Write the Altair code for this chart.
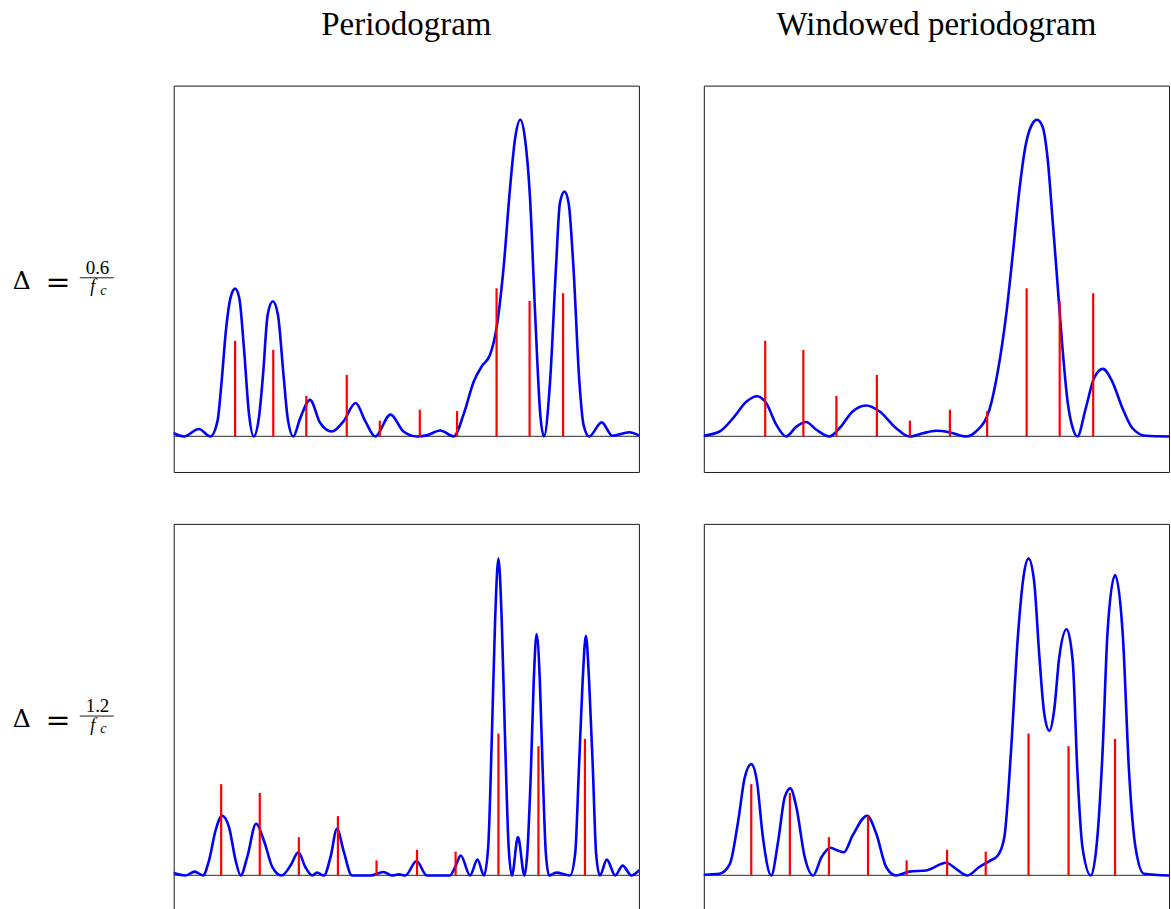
import altair as alt
import pandas as pd

# ---------------- data ----------------
# Top row (Delta = 0.6 / f_c): spike locations and amplitudes
SPIKE_F_TOP = [0.132, 0.214, 0.285, 0.372, 0.443, 0.529, 0.609, 0.694, 0.765, 0.837]
SPIKE_A_TOP = [0.272, 0.246, 0.115, 0.175, 0.045, 0.076, 0.072, 0.421, 0.385, 0.407]

# Bottom row (Delta = 1.2 / f_c)
SPIKE_F_BOT = [0.102, 0.185, 0.269, 0.353, 0.436, 0.523, 0.606, 0.698, 0.784, 0.884]
SPIKE_A_BOT = [0.260, 0.235, 0.109, 0.169, 0.043, 0.073, 0.068, 0.404, 0.368, 0.389]

# Periodogram, top row
PER_TOP_F = [0.000, 0.022, 0.054, 0.079, 0.094, 0.103, 0.112, 0.122, 0.132, 0.141,
             0.151, 0.162, 0.172, 0.183, 0.192, 0.202, 0.213, 0.224, 0.236, 0.245,
             0.257, 0.272, 0.293, 0.315, 0.340, 0.365, 0.391, 0.412, 0.433, 0.466,
             0.494, 0.523, 0.544, 0.573, 0.602, 0.623, 0.645, 0.662, 0.680, 0.695,
             0.709, 0.723, 0.734, 0.745, 0.755, 0.766, 0.777, 0.788, 0.796, 0.809,
             0.822, 0.830, 0.840, 0.849, 0.859, 0.872, 0.881, 0.893, 0.920, 0.943,
             0.979, 1.000]
PER_TOP_P = [0.009, 0.000, 0.021, 0.000, 0.043, 0.156, 0.298, 0.393, 0.420, 0.393,
             0.251, 0.062, 0.000, 0.052, 0.175, 0.346, 0.384, 0.346, 0.175, 0.052,
             0.000, 0.052, 0.104, 0.038, 0.014, 0.043, 0.095, 0.043, 0.000, 0.062,
             0.014, 0.000, 0.003, 0.017, 0.000, 0.062, 0.156, 0.199, 0.232, 0.317,
             0.478, 0.706, 0.848, 0.900, 0.848, 0.677, 0.346, 0.062, 0.000, 0.156,
             0.487, 0.662, 0.696, 0.662, 0.487, 0.156, 0.033, 0.000, 0.040, 0.002,
             0.012, 0.003]

# Windowed periodogram, top row
WIN_TOP_F = [0.000, 0.034, 0.063, 0.092, 0.114, 0.134, 0.156, 0.177, 0.199, 0.220,
             0.242, 0.270, 0.292, 0.320, 0.349, 0.378, 0.413, 0.442, 0.471, 0.499,
             0.528, 0.564, 0.585, 0.614, 0.632, 0.650, 0.664, 0.678, 0.692, 0.707,
             0.716, 0.728, 0.739, 0.750, 0.760, 0.771, 0.782, 0.793, 0.803, 0.821,
             0.839, 0.858, 0.878, 0.900, 0.921, 0.950, 1.000]
WIN_TOP_P = [0.002, 0.014, 0.052, 0.099, 0.114, 0.095, 0.033, 0.000, 0.028, 0.041,
             0.019, 0.000, 0.024, 0.071, 0.088, 0.071, 0.024, 0.000, 0.009, 0.016,
             0.012, 0.000, 0.014, 0.076, 0.185, 0.346, 0.516, 0.696, 0.829, 0.890,
             0.900, 0.881, 0.791, 0.611, 0.440, 0.251, 0.099, 0.024, 0.000, 0.080,
             0.166, 0.192, 0.156, 0.080, 0.024, 0.002, 0.000]

# Periodogram, bottom row
PER_BOT_F = [0.000, 0.026, 0.045, 0.063, 0.076, 0.090, 0.104, 0.119, 0.133, 0.144,
             0.158, 0.177, 0.194, 0.212, 0.232, 0.251, 0.268, 0.283, 0.298, 0.308,
             0.323, 0.337, 0.351, 0.365, 0.383, 0.423, 0.451, 0.469, 0.484, 0.498,
             0.522, 0.544, 0.594, 0.605, 0.617, 0.637, 0.653, 0.667, 0.676, 0.684,
             0.691, 0.698, 0.705, 0.712, 0.720, 0.727, 0.740, 0.754, 0.760, 0.768,
             0.774, 0.780, 0.787, 0.793, 0.800, 0.807, 0.822, 0.852, 0.863, 0.871,
             0.879, 0.886, 0.893, 0.901, 0.908, 0.916, 0.931, 0.949, 0.965, 0.984,
             1.000]
PER_BOT_P = [0.007, 0.000, 0.011, 0.000, 0.043, 0.128, 0.170, 0.137, 0.043, 0.000,
             0.052, 0.147, 0.099, 0.024, 0.000, 0.028, 0.066, 0.024, 0.000, 0.008,
             0.000, 0.052, 0.133, 0.071, 0.000, 0.000, 0.010, 0.000, 0.003, 0.000,
             0.041, 0.000, 0.000, 0.024, 0.057, 0.000, 0.045, 0.000, 0.081, 0.401,
             0.731, 0.902, 0.731, 0.401, 0.081, 0.000, 0.109, 0.000, 0.062, 0.305,
             0.556, 0.687, 0.556, 0.305, 0.062, 0.000, 0.008, 0.000, 0.062, 0.303,
             0.552, 0.682, 0.552, 0.303, 0.062, 0.000, 0.045, 0.000, 0.028, 0.000,
             0.014]

# Windowed periodogram, bottom row
WIN_BOT_F = [0.000, 0.034, 0.056, 0.074, 0.088, 0.102, 0.114, 0.127, 0.145, 0.160,
             0.174, 0.186, 0.199, 0.217, 0.235, 0.253, 0.272, 0.288, 0.301, 0.320,
             0.351, 0.371, 0.392, 0.413, 0.442, 0.478, 0.521, 0.542, 0.567, 0.592,
             0.614, 0.632, 0.646, 0.660, 0.675, 0.687, 0.698, 0.710, 0.721, 0.732,
             0.743, 0.753, 0.764, 0.780, 0.793, 0.803, 0.814, 0.832, 0.846, 0.857,
             0.868, 0.884, 0.901, 0.914, 0.928, 0.946, 1.000]
WIN_BOT_P = [0.002, 0.005, 0.033, 0.156, 0.279, 0.317, 0.270, 0.109, 0.000, 0.099,
             0.223, 0.248, 0.194, 0.052, 0.000, 0.052, 0.079, 0.071, 0.066, 0.114,
             0.170, 0.118, 0.024, 0.000, 0.011, 0.014, 0.036, 0.019, 0.000, 0.024,
             0.041, 0.057, 0.109, 0.346, 0.677, 0.848, 0.902, 0.838, 0.630, 0.459,
             0.412, 0.469, 0.620, 0.701, 0.611, 0.298, 0.080, 0.000, 0.109, 0.346,
             0.696, 0.855, 0.677, 0.298, 0.080, 0.005, 0.000]

COL_TITLES = ["Periodogram", "Windowed periodogram"]
ROW_NUMERATORS = ["0.6", "1.2"]

Y_DOMAIN_TOP = [-0.101, 0.997]
Y_DOMAIN_BOT = [-0.099, 1.001]

PANEL_W, PANEL_H = 466, 387
LABEL_W, TITLE_H = 108, 32
SERIF = "Liberation Serif"

NO_STROKE = alt.ViewBackground(stroke="transparent")
UNIT = alt.Scale(domain=[0, 1], nice=False, zero=False)


def panel(cf, cp, sf, sa, ydom):
    xs = alt.Scale(domain=[0, 1], nice=False, zero=False)
    ys = alt.Scale(domain=ydom, nice=False, zero=False)
    base = alt.Chart(pd.DataFrame({"level": [0.0]})).mark_rule(
        color="#555555", strokeWidth=1.2
    ).encode(y=alt.Y("level:Q", scale=ys, axis=None))
    line = alt.Chart(pd.DataFrame({"f": cf, "p": cp})).mark_line(
        color="#0000ff", strokeWidth=2.6, interpolate="monotone", clip=True,
        strokeJoin="round", strokeCap="round"
    ).encode(
        x=alt.X("f:Q", scale=xs, axis=None),
        y=alt.Y("p:Q", scale=ys, axis=None),
    )
    stems = alt.Chart(pd.DataFrame({"f": sf, "a": sa})).mark_rule(
        color="#ff0000", strokeWidth=2.2
    ).encode(
        x=alt.X("f:Q", scale=xs, axis=None),
        y=alt.Y("a:Q", scale=ys, axis=None),
        y2=alt.datum(0),
    )
    return alt.layer(base, line, stems).properties(
        width=PANEL_W, height=PANEL_H,
        view=alt.ViewBackground(stroke="#1a1a1a", strokeWidth=1),
    )


def txt(s, x, y, size, font=SERIF, align="left", style="normal"):
    return alt.Chart(pd.DataFrame({"t": [s], "x": [x], "y": [y]})).mark_text(
        font=font, fontSize=size, align=align, baseline="alphabetic",
        fontStyle=style, color="black"
    ).encode(
        x=alt.X("x:Q", scale=UNIT, axis=None),
        y=alt.Y("y:Q", scale=UNIT, axis=None),
        text="t:N",
    )


def row_label(num):
    bar = alt.Chart(pd.DataFrame({"x": [0.731], "x2": [1.046], "y": [0.5026]})).mark_rule(
        color="black", strokeWidth=0.9
    ).encode(
        x=alt.X("x:Q", scale=UNIT, axis=None),
        x2="x2:Q",
        y=alt.Y("y:Q", scale=UNIT, axis=None),
    )
    return alt.layer(
        txt("Δ", 0.110, 0.4742, 25, font="DejaVu Serif"),
        txt("=", 0.5300, 0.4654, 30, font="DejaVu Serif", align="center"),
        txt(num, 0.895, 0.5129, 19, align="center"),
        bar,
        txt("f", 0.852, 0.4651, 18, align="center", style="italic"),
        txt("c", 0.921, 0.4587, 14, style="italic"),
    ).properties(width=LABEL_W, height=PANEL_H, view=NO_STROKE)


def col_title(s):
    return txt(s, 0.5, -0.0406, 33, align="center").properties(
        width=PANEL_W, height=TITLE_H, view=NO_STROKE
    )


blank = alt.Chart(pd.DataFrame({"t": [""]})).mark_text().encode(text="t:N").properties(
    width=LABEL_W, height=TITLE_H, view=NO_STROKE
)

cells = [
    blank, col_title(COL_TITLES[0]), col_title(COL_TITLES[1]),
    row_label(ROW_NUMERATORS[0]),
    panel(PER_TOP_F, PER_TOP_P, SPIKE_F_TOP, SPIKE_A_TOP, Y_DOMAIN_TOP),
    panel(WIN_TOP_F, WIN_TOP_P, SPIKE_F_TOP, SPIKE_A_TOP, Y_DOMAIN_TOP),
    row_label(ROW_NUMERATORS[1]),
    panel(PER_BOT_F, PER_BOT_P, SPIKE_F_BOT, SPIKE_A_BOT, Y_DOMAIN_BOT),
    panel(WIN_BOT_F, WIN_BOT_P, SPIKE_F_BOT, SPIKE_A_BOT, Y_DOMAIN_BOT),
]

chart = alt.concat(
    *cells,
    columns=3,
    spacing=alt.RowColnumber(row=52, column=65),
    bounds="flush",
).properties(padding=0, background="white")

chart.save("out.html", embed_options={"renderer": "svg", "actions": False})
